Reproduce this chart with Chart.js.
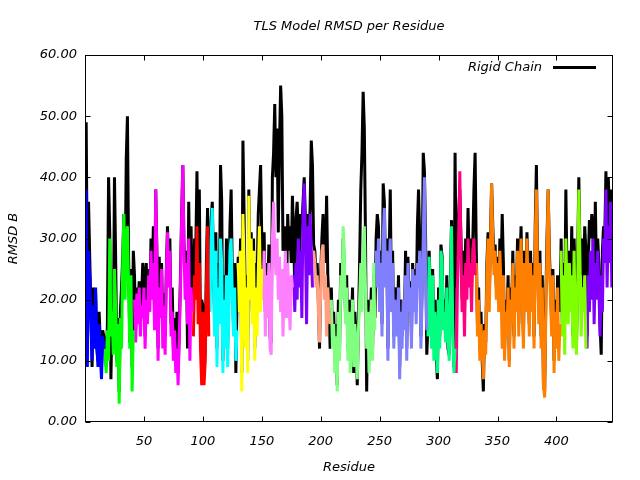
<!DOCTYPE html>
<html>
<head>
<meta charset="utf-8">
<script src="https://cdn.jsdelivr.net/npm/chart.js@4.4.0/dist/chart.umd.min.js"></script>
<style>
  html, body { margin: 0; padding: 0; background: #fff; }
  canvas { display: block; }
</style>
</head>
<body>
<canvas id="chart" width="640" height="480"></canvas>
<script>
// RMSD of the rigid chain model, one value per residue (1..448)
const rigidChain = [
  49, 22, 36, 27, 19, 9, 22, 14, 21, 12, 10, 18, 13, 9, 15, 14,
  13, 9, 16, 40, 31, 7, 19, 12, 40, 27, 10, 17, 5, 18, 22, 27, 34, 23, 43, 50, 27, 13, 25, 9, 28,
  24, 15, 22, 19, 23, 16, 20, 26, 24, 14, 26, 17, 25, 20, 30, 22, 32, 18, 38, 28,
  12, 27, 18, 26, 16, 21, 14, 25, 32, 24, 30, 16, 22, 12, 17, 10, 18, 8, 15, 24,
  34, 42, 29, 25, 28, 12, 36, 22, 32, 20,
  22, 30, 28, 41, 24, 38, 14, 20, 19, 8, 12, 26, 35, 18,
  22, 33, 36, 26, 16, 31, 12, 26, 20, 42, 36, 10, 24, 14, 30, 12, 22, 32, 38, 24, 16, 26, 8, 20,
  27, 20, 30, 8, 46, 34, 14, 24, 10, 38, 24, 31, 18, 30, 12, 26, 22, 34, 38, 42, 30,
  24, 31, 18, 26, 20, 29, 14, 13, 40, 44, 52, 40, 48, 31, 45, 55, 50, 28, 30, 32, 20, 34, 28, 32, 26, 37,
  30, 22, 33, 36, 31, 26, 34, 32, 36, 40, 33, 28, 34, 30, 35, 46, 42,
  29, 28, 24, 26, 20, 12, 24, 30, 34, 28, 26, 37, 24, 20, 12,
  22, 14, 18, 10, 16, 6, 20, 12, 26, 22, 30, 26, 18, 24, 12, 20, 10, 15, 22, 8,
  18, 14, 6, 16, 26, 38, 44, 54, 48, 30, 5, 20, 10, 16, 22, 12, 24, 17,
  30, 34, 32, 20, 28, 16, 39, 36, 24, 30, 12, 26, 38, 20, 28, 14, 22, 18, 17, 24,
  9, 20, 14, 18, 16, 28, 12, 27, 20, 23, 14, 26, 20, 25, 18, 32, 38, 30, 14, 22, 44, 41, 30, 11,
  16, 28, 22, 14, 25, 12, 20, 11, 7, 22, 14, 29, 27, 16, 20, 14, 24, 12, 11, 22, 33, 18, 9, 44,
  22, 26, 34, 38, 30, 20, 28, 18, 30, 24, 35, 26, 30, 22, 29, 38, 44,
  28, 16, 22, 12, 18, 10, 5, 16, 13, 26, 31, 20, 30, 39, 32, 26, 29, 22, 27, 20,
  30, 24, 34, 26, 12, 20, 16, 24, 10, 22, 18, 28, 14, 24, 20, 30, 16, 26, 32, 22,
  14, 28, 20, 31, 24, 16, 28, 20, 26, 14, 32, 42, 26, 18, 28, 14, 24, 6, 5, 20,
  30, 38, 28, 22, 16, 25, 10, 20, 14, 24, 20, 18,
  30, 16, 26, 18, 38, 24, 18, 28, 20, 32, 14, 30, 22, 12, 26, 40, 28, 24, 30, 22, 32, 28,
  14, 26, 33, 30, 34, 32, 20, 36, 24, 30, 26, 16, 11, 28, 32, 30, 41, 28, 40, 34, 38, 30, 32
];

// RMSD of the TLS group model, one value per residue (1..448)
const tlsModel = [
  38, 9, 28, 24, 17, 10, 19, 12, 22, 13, 9, 16, 11, 7, 14, 12,
  12, 8, 15, 10, 30, 14, 18, 11, 25, 19, 9, 16, 3, 17, 12, 26, 34, 20, 30, 32, 22, 12, 24, 5, 15,
  20, 13, 21, 16, 22, 14, 19, 17, 22, 12, 20, 16, 24, 18, 28, 20, 26, 15, 38, 27,
  10, 22, 17, 25, 12, 19, 11, 24, 31, 22, 28, 14, 18, 10, 15, 8, 12, 6, 14, 22,
  33, 42, 28, 20, 26, 16, 30, 10, 22, 18,
  14, 24, 20, 32, 16, 26, 12, 6, 18, 6, 10, 22, 32, 14,
  18, 30, 35, 24, 14, 28, 9, 22, 16, 30, 26, 8, 20, 12, 24, 9, 18, 28, 30, 20, 14, 22, 10, 15,
  26, 18, 28, 5, 34, 26, 12, 22, 8, 37, 20, 30, 16, 28, 10, 22, 14, 24, 32, 18, 25,
  20, 28, 14, 24, 17, 26, 12, 11, 30, 36, 28, 24, 30, 20, 27, 18, 25, 14, 22, 28, 17, 26, 20, 15, 24, 22,
  24, 18, 26, 20, 30, 22, 28, 17, 34, 39, 30, 16, 32, 24, 34, 28, 22,
  28, 26, 22, 24, 18, 13, 22, 28, 29, 20, 24, 14, 22, 18, 16,
  20, 12, 16, 8, 14, 5, 18, 10, 24, 20, 32, 28, 16, 22, 10, 18, 8, 14, 20, 9,
  16, 12, 7, 15, 20, 26, 18, 28, 32, 22, 12, 18, 8, 14, 20, 10, 26, 15,
  28, 22, 30, 18, 26, 14, 30, 35, 22, 28, 10, 24, 30, 18, 26, 12, 20, 16, 14, 22,
  7, 18, 12, 20, 15, 24, 10, 26, 18, 22, 12, 25, 18, 24, 16, 26, 22, 28, 12, 20, 30, 40, 24, 15,
  14, 27, 20, 12, 24, 10, 18, 14, 8, 20, 12, 28, 26, 15, 18, 13, 22, 14, 10, 20, 32, 16, 8, 12,
  8, 22, 30, 41, 28, 18, 24, 14, 26, 20, 30, 22, 26, 18, 28, 30, 24,
  26, 14, 20, 10, 16, 12, 7, 15, 11, 24, 30, 18, 28, 39, 30, 24, 28, 20, 26, 18,
  28, 22, 12, 24, 10, 18, 14, 22, 9, 20, 16, 26, 12, 22, 18, 28, 14, 24, 30, 20,
  12, 26, 18, 30, 22, 14, 26, 18, 24, 12, 30, 38, 24, 16, 26, 12, 22, 6, 4, 18,
  28, 38, 26, 20, 14, 24, 8, 18, 12, 22, 10, 16,
  28, 14, 24, 11, 30, 20, 16, 26, 18, 24, 12, 28, 16, 11, 22, 38, 26, 14, 22, 18, 24, 12,
  12, 24, 18, 28, 20, 30, 16, 26, 20, 28, 22, 14, 24, 18, 30, 26, 38, 22, 32, 26, 36, 22, 26
];

// TLS groups: first and last residue of each segment
const groupStart = [1, 17, 42, 92, 106, 130, 151, 177, 194, 209, 247, 291, 315, 332, 404, 426];
const groupEnd   = [16, 41, 91, 105, 129, 150, 176, 193, 208, 246, 290, 314, 331, 403, 425, 448];
const groupColors = ['#0000ff', '#00ff00', '#ff00ff', '#ff0000', '#00ffff', '#ffff00', '#ff80ff', '#8000ff',
                     '#ffa080', '#80ff80', '#8080ff', '#00ff80', '#ff0080', '#ff8000', '#80ff00', '#8000ff'];

const xTickValues = [50, 100, 150, 200, 250, 300, 350, 400];
const yTickValues = [0, 10, 20, 30, 40, 50, 60];

const FONT = { family: 'DejaVu Sans', size: 13, style: 'italic' };

const datasets = [];
groupStart.forEach((start, g) => {
    const pts = [];
    for (let r = start; r <= groupEnd[g]; r++) {
        pts.push({ x: r, y: tlsModel[r - 1] });
    }
    datasets.push({
        label: 'TLS group ' + (g + 1),
        data: pts,
        borderColor: groupColors[g],
        order: 1
    });
});
datasets.push({
    label: 'Rigid Chain',
    data: rigidChain.map((v, i) => ({ x: i + 1, y: v })),
    borderColor: '#000000',
    order: 2
});

// gnuplot style frame, inward ticks, title and key
const framePlugin = {
    id: 'frame',
    afterDraw(chart) {
        const { ctx, chartArea: a, scales: { x, y } } = chart;
        const L = Math.round(a.left) + 0.5, R = Math.round(a.right) - 0.5;
        const T = Math.round(a.top) + 0.5, B = Math.round(a.bottom) - 0.5;
        ctx.save();
        ctx.strokeStyle = '#000';
        ctx.lineWidth = 1;
        ctx.strokeRect(L, T, R - L, B - T);
        ctx.beginPath();
        xTickValues.forEach(v => {
            const px = Math.round(x.getPixelForValue(v)) + 0.5;
            ctx.moveTo(px, B); ctx.lineTo(px, B - 5);
            ctx.moveTo(px, T); ctx.lineTo(px, T + 5);
        });
        yTickValues.forEach(v => {
            const py = Math.round(y.getPixelForValue(v)) + 0.5;
            ctx.moveTo(L, py); ctx.lineTo(L + 5, py);
            ctx.moveTo(R, py); ctx.lineTo(R - 5, py);
        });
        ctx.stroke();

        ctx.fillStyle = '#000';
        ctx.font = 'italic 13px "DejaVu Sans"';
        ctx.textBaseline = 'middle';
        ctx.textAlign = 'center';
        ctx.fillText('TLS Model RMSD per Residue', (a.left + a.right) / 2, 27);

        ctx.textAlign = 'right';
        ctx.fillText('Rigid Chain', 542, 68);
        ctx.lineWidth = 3;
        ctx.beginPath();
        ctx.moveTo(553, 67.5);
        ctx.lineTo(596, 67.5);
        ctx.stroke();
        ctx.restore();
    }
};

new Chart(document.getElementById('chart'), {
    type: 'line',
    data: { datasets },
    options: {
        responsive: false,
        animation: false,
        layout: { padding: { top: 55, right: 27, left: 0, bottom: 0 } },
        plugins: {
            legend: { display: false },
            tooltip: { enabled: false },
            title: { display: false }
        },
        elements: {
            point: { radius: 0 },
            line: { tension: 0, borderWidth: 3, borderJoinStyle: 'bevel', borderCapStyle: 'butt' }
        },
        scales: {
            x: {
                type: 'linear',
                min: 0,
                max: 448,
                grid: { display: false, drawTicks: false },
                border: { display: false },
                afterFit: s => { s.height = 58; },
                afterBuildTicks: s => { s.ticks = xTickValues.map(v => ({ value: v })); },
                ticks: { color: '#000', font: FONT, padding: 12, maxRotation: 0, autoSkip: false },
                title: { display: true, text: 'Residue', color: '#000', font: FONT, padding: { top: 0, bottom: 5 } }
            },
            y: {
                type: 'linear',
                min: 0,
                max: 60,
                grid: { display: false, drawTicks: false },
                border: { display: false },
                afterFit: s => { s.width = 85; },
                afterBuildTicks: s => { s.ticks = yTickValues.map(v => ({ value: v })); },
                ticks: { color: '#000', font: FONT, padding: 8, callback: v => v.toFixed(2) },
                title: { display: true, text: 'RMSD B', color: '#000', font: FONT, padding: { top: 6, bottom: 0 } }
            }
        }
    },
    plugins: [framePlugin]
});
</script>
</body>
</html>
